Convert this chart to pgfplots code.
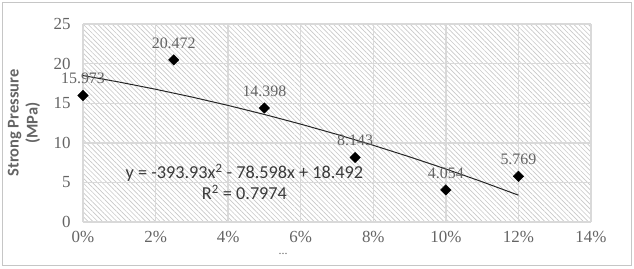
\documentclass[border=0pt]{standalone}
\usepackage{fontspec}
\setmainfont{Liberation Serif}
\newfontfamily\calibri{Carlito}
\usepackage{pgfplots}
\pgfplotsset{compat=1.18}
\usetikzlibrary{patterns.meta}
\definecolor{ticktext}{HTML}{646464}
\definecolor{gridc}{HTML}{D9D9D9}
\definecolor{hatch}{HTML}{C8C8C8}
\definecolor{eqtext}{HTML}{3A3A3A}
\begin{document}
\begin{tikzpicture}[x=1bp,y=1bp]
\useasboundingbox (0,0) rectangle (634,268);
\draw[color=gray!45, line width=1.2bp] (2.5,2.5) rectangle (631.5,265.5);
\begin{axis}[
  at={(83bp,46bp)}, anchor=south west,
  scale only axis, width=508bp, height=198bp,
  xmin=0, xmax=14, ymin=0, ymax=25,
  xtick={0,2,...,14}, ytick={0,5,...,25},
  xticklabel={\pgfmathprintnumber{\tick}\%},
  /pgf/number format/assume math mode=true,
  grid=major,
  major grid style={gridc, line width=1.4bp},
  axis line style={draw=none},
  major tick length=0pt,
  tick label style={font=\fontsize{17}{19}\selectfont, text=ticktext},
  xticklabel style={yshift=-6bp},
  yticklabel style={xshift=-9bp},
  axis background/.style={pattern={Lines[angle=-45, distance=3.4bp, line width=0.65bp]}, pattern color=hatch},
  ylabel={Strong Pressure\\(MPa)},
  ylabel style={align=center, font=\calibri\bfseries\fontsize{16.5}{19}\selectfont, text=ticktext, at={(rel axis cs:0,0.5)}, anchor=center, yshift=59bp},
  xlabel={...},
  xlabel style={font=\fontsize{12}{14}\selectfont, text=ticktext, at={(rel axis cs:0.394,0)}, yshift=-32bp, anchor=center},
  clip=false,
]
\addplot[color=black!85, line width=1bp] coordinates {
 (0,18.492) (1,17.667) (2,16.762) (3,15.780) (4,14.718) (5,13.577) (6,12.358)
 (7,11.060) (8,9.683) (9,8.227) (10,6.693) (11,5.080) (12,3.388)};
\addplot[only marks, mark=square*, mark size=3.7bp, mark options={rotate=45, fill=black, draw=black},
  nodes near coords, point meta=explicit symbolic,
  every node near coord/.append style={font=\fontsize{16}{18}\selectfont, text=ticktext, anchor=south, yshift=8bp}]
 coordinates {
 (0,15.973) [15.973]
 (2.5,20.472) [20.472]
 (5,14.398) [14.398]
 (7.5,8.143) [8.143]
 (10,4.054) [4.054]
 (12,5.769) [5.769]};
\node[font=\calibri\fontsize{18.3}{21}\selectfont, text=eqtext, align=center] at (axis cs:4.45,5.1)
 {y = -393.93x\textsuperscript{2} - 78.598x + 18.492\\R\textsuperscript{2} = 0.7974};
\end{axis}
\end{tikzpicture}
\end{document}
